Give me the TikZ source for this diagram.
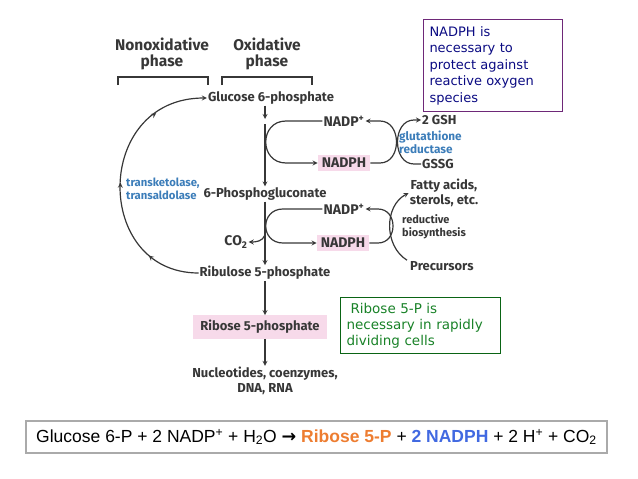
\documentclass[tikz,border=0pt]{standalone}
\usepackage{fontspec}
\usepackage{tikz}
\usepackage{xcolor}
\usetikzlibrary{decorations.markings}
\setmainfont{Fira Sans}
\newfontfamily\notefont{DejaVu Sans}
\newfontfamily\eqfont{Liberation Sans}
\definecolor{txtgray}{RGB}{55,55,55}
\definecolor{enzblue}{RGB}{60,125,185}
\definecolor{boxpink}{RGB}{247,218,234}
\definecolor{notenavy}{RGB}{10,10,130}
\definecolor{noteframe}{RGB}{110,40,120}
\definecolor{notegreen}{RGB}{25,130,40}
\definecolor{greenframe}{RGB}{10,100,20}
\definecolor{eqorange}{RGB}{237,125,49}
\definecolor{eqblue}{RGB}{65,105,225}
\definecolor{framegray}{RGB}{170,170,170}

\begin{document}
\begin{tikzpicture}[x=1pt, y=-1pt,
    lbl/.style={font=\bfseries\fontsize{13}{15}\selectfont, text=txtgray, inner sep=1pt},
    big/.style={lbl, font=\bfseries\fontsize{14}{16}\selectfont},
    head/.style={lbl, align=center, font=\bfseries\fontsize{15.5}{16.5}\selectfont},
    enz/.style={lbl, align=left, text=enzblue, font=\bfseries\fontsize{11.8}{13}\selectfont},
    pinkbox/.style={big, fill=boxpink, inner xsep=4pt, inner ysep=3pt},
    flow/.style={->, >=stealth, line width=1.2pt, draw=txtgray},
    note/.style={font=\notefont\fontsize{13}{16.5}\selectfont, align=left, anchor=north west, line width=1pt}]
    \useasboundingbox (0,0) rectangle (638,479);

    %% phases
    \node[head] (nonox) at (162,54) {Nonoxidative\\phase};
    \node[head] (oxid) at (267,54) {Oxidative\\phase};
    \draw[txtgray, line width=1.2pt] (118,85) -- (118,77) -- (208,77) -- (208,85);
    \draw[txtgray, line width=1.2pt] (222,85) -- (222,77) -- (312,77) -- (312,85);

    %% main pathway
    \node[lbl] (gluc) at (271,98) {Glucose 6-phosphate};
    \node[lbl] (phosg) at (265,194) {6-Phosphogluconate};
    \node[lbl] (ribu) at (265,273) {Ribulose 5-phosphate};
    \node[pinkbox, font=\bfseries\fontsize{13}{15}\selectfont, inner xsep=7pt, inner ysep=5pt] (ribo) at (260,327) {Ribose 5-phosphate};
    \node[lbl, align=center] (nucl) at (265,381) {Nucleotides, coenzymes,\\DNA, RNA};
    \coordinate (g1) at (265,119);
    \coordinate (g2) at (265,124);
    \draw[flow] (gluc.south -| g1) -- (g1);
    \draw[flow] (g2) -- (phosg.north -| g2);
    \draw[flow] (phosg.south -| g2) -- (ribu.north -| g2);
    \draw[flow] (ribu.south -| g2) -- (ribo.north -| g2);
    \draw[flow] (ribo.south -| g2) -- (nucl.north -| g2);

    %% first NADPH loop
    \node[big] (nadpa) at (344,121) {NADP\textsuperscript{+}};
    \node[pinkbox] (nadpha) at (344,163) {NADPH};
    \draw[flow] (nadpa.west) -- (286,121) .. controls (259,121) and (259,163) .. (286,163) -- (nadpha.west);
    \draw[flow] (nadpha.east) -- (380,163) .. controls (402,163) and (402,121) .. (380,121) -- (nadpa.east);
    \node[lbl, anchor=west] (gsh) at (421,120) {2 GSH};
    \node[lbl, anchor=west] (gssg) at (421,164) {GSSG};
    \draw[flow] (gssg.west) -- (414,164) .. controls (392,164) and (392,120) .. (414,120) -- (gsh.west);
    \node[enz, anchor=west] (gred) at (398,142) {glutathione\\reductase};

    %% second NADPH loop
    \node[big] (nadpb) at (344,209) {NADP\textsuperscript{+}};
    \node[pinkbox] (nadphb) at (343,243) {NADPH};
    \draw[flow] (nadpb.west) -- (283,209) .. controls (260,209) and (260,243) .. (283,243) -- (nadphb.west);
    \draw[flow] (nadphb.east) -- (378,243) .. controls (398,243) and (398,209) .. (378,209) -- (nadpb.east);
    \node[big] (co2) at (236,242) {CO\textsubscript{2}};
    \coordinate (c1) at (265,235);
    \draw[flow] (c1) to[out=-110, in=0] (co2.east);

    %% reductive biosynthesis
    \node[lbl, align=center] (fatty) at (444,193) {Fatty acids,\\sterols, etc.};
    \node[lbl, anchor=west] (prec) at (409,266) {Precursors};
    \node[lbl, align=left, anchor=west, font=\bfseries\fontsize{11}{13}\selectfont] (redbio) at (401,227) {reductive\\biosynthesis};
    \draw[flow] ([xshift=-2pt]prec.north west) .. controls (384,246) and (384,206) .. (fatty.west);

    %% nonoxidative return
    \draw[flow, postaction={decorate}, decoration={markings,
        mark=at position 0.2 with {\arrow{stealth}},
        mark=at position 0.5 with {\arrow{stealth}},
        mark=at position 0.8 with {\arrow{stealth}}}]
      (ribu.west) .. controls (93,273) and (93,98) .. (gluc.west);
    \node[enz, anchor=west, font=\bfseries\fontsize{11.3}{13.5}\selectfont] (tkt) at (125,189) {transketolase,\\transaldolase};

    %% notes
    \node[note, draw=noteframe, text=notenavy, minimum width=139pt, minimum height=92pt, text width=127pt] (nadphnote) at (423,19)
      {NADPH is\\necessary to\\protect against\\reactive oxygen\\species};
    \node[note, draw=greenframe, text=notegreen, minimum width=160pt, minimum height=56pt, text width=148pt, font=\notefont\fontsize{13.5}{16}\selectfont] (ribonote) at (340,297)
      {\hspace{4pt}Ribose 5-P is\\necessary in rapidly\\dividing cells};

    %% overall equation
    \node[draw=framegray, line width=1.2pt, minimum width=581pt, minimum height=32pt, font=\eqfont\fontsize{17.5}{20}\selectfont] (eqn) at (316.5,437)
      {Glucose 6-P + 2 NADP\textsuperscript{+} + H\textsubscript{2}O {\notefont\bfseries →} \textcolor{eqorange}{\bfseries Ribose 5-P} + \textcolor{eqblue}{\bfseries 2 NADPH} + 2 H\textsuperscript{+} + CO\textsubscript{2}};
\end{tikzpicture}
\end{document}
